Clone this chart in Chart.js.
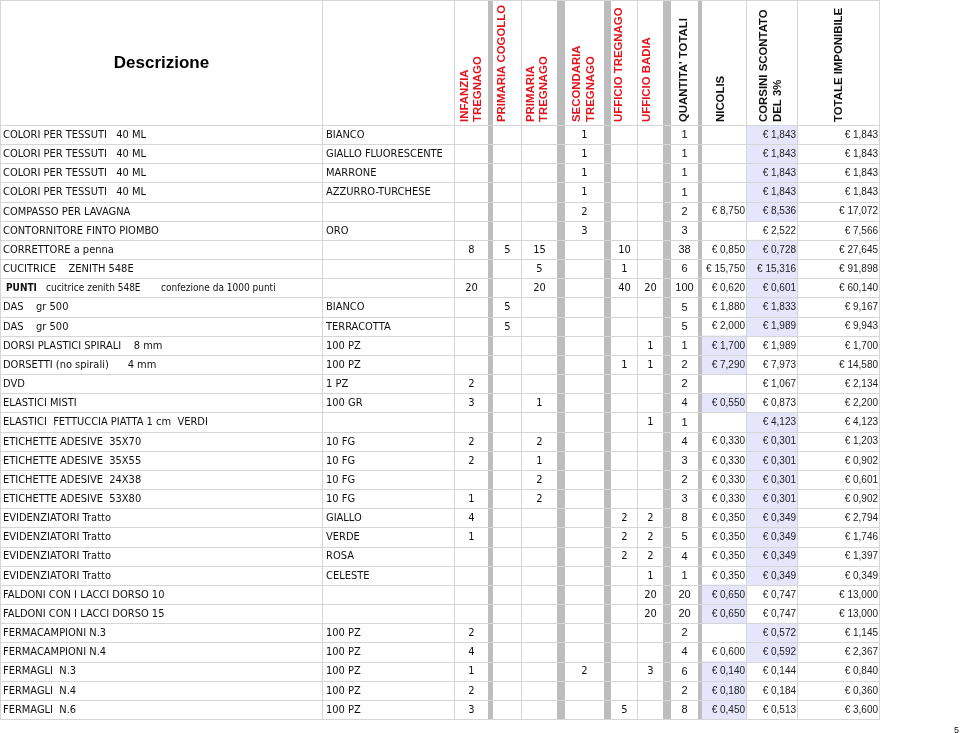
<!DOCTYPE html>
<html>
<head>
<meta charset="utf-8">
<script src="https://cdn.jsdelivr.net/npm/chart.js@4"></script>
<style>
  html, body { margin: 0; padding: 0; background: #fff; }
  #wrap { position: relative; width: 960px; height: 733px; }
</style>
</head>
<body>
<div id="wrap"><canvas id="myChart"></canvas></div>
<script>
// --- data ---
const descriptions = [
  'COLORI PER TESSUTI   40 ML',
  'COLORI PER TESSUTI   40 ML',
  'COLORI PER TESSUTI   40 ML',
  'COLORI PER TESSUTI   40 ML',
  'COMPASSO PER LAVAGNA',
  'CONTORNITORE FINTO PIOMBO',
  'CORRETTORE a penna',
  'CUCITRICE    ZENITH 548E',
  'PUNTI   cucitrice zenith 548E    confezione da 1000 punti',
  'DAS    gr 500',
  'DAS    gr 500',
  'DORSI PLASTICI SPIRALI    8 mm',
  'DORSETTI (no spirali)      4 mm',
  'DVD',
  'ELASTICI MISTI',
  'ELASTICI  FETTUCCIA PIATTA 1 cm  VERDI',
  'ETICHETTE ADESIVE  35X70',
  'ETICHETTE ADESIVE  35X55',
  'ETICHETTE ADESIVE  24X38',
  'ETICHETTE ADESIVE  53X80',
  'EVIDENZIATORI Tratto',
  'EVIDENZIATORI Tratto',
  'EVIDENZIATORI Tratto',
  'EVIDENZIATORI Tratto',
  'FALDONI CON I LACCI DORSO 10',
  'FALDONI CON I LACCI DORSO 15',
  'FERMACAMPIONI N.3',
  'FERMACAMPIONI N.4',
  'FERMAGLI  N.3',
  'FERMAGLI  N.4',
  'FERMAGLI  N.6'
];
const variants = [
  'BIANCO', 'GIALLO FLUORESCENTE', 'MARRONE', 'AZZURRO-TURCHESE', '', 'ORO', '', '', '',
  'BIANCO', 'TERRACOTTA', '100 PZ', '100 PZ', '1 PZ', '100 GR', '',
  '10 FG', '10 FG', '10 FG', '10 FG', 'GIALLO', 'VERDE', 'ROSA', 'CELESTE', '', '',
  '100 PZ', '100 PZ', '100 PZ', '100 PZ', '100 PZ'
];
const infanziaTregnago  = [null,null,null,null,null,null,8,null,20,null,null,null,null,2,3,null,2,2,null,1,4,1,null,null,null,null,2,4,1,2,3];
const primariaCogollo   = [null,null,null,null,null,null,5,null,null,5,5,null,null,null,null,null,null,null,null,null,null,null,null,null,null,null,null,null,null,null,null];
const primariaTregnago  = [null,null,null,null,null,null,15,5,20,null,null,null,null,null,1,null,2,1,2,2,null,null,null,null,null,null,null,null,null,null,null];
const secondariaTregnago= [1,1,1,1,2,3,null,null,null,null,null,null,null,null,null,null,null,null,null,null,null,null,null,null,null,null,null,null,2,null,null];
const ufficioTregnago   = [null,null,null,null,null,null,10,1,40,null,null,null,1,null,null,null,null,null,null,null,2,2,2,null,null,null,null,null,null,null,5];
const ufficioBadia      = [null,null,null,null,null,null,null,null,20,null,null,1,1,null,null,1,null,null,null,null,2,2,2,1,20,20,null,null,3,null,null];
const quantitaTotali    = [1,1,1,1,2,3,38,6,100,5,5,1,2,2,4,1,4,3,2,3,8,5,4,1,20,20,2,4,6,2,8];
const nicolis = [null,null,null,null,8.750,null,0.850,15.750,0.620,1.880,2.000,1.700,7.290,null,0.550,null,
  0.330,0.330,0.330,0.330,0.350,0.350,0.350,0.350,0.650,0.650,null,0.600,0.140,0.180,0.450];
const corsini = [1.843,1.843,1.843,1.843,8.536,2.522,0.728,15.316,0.601,1.833,1.989,1.989,7.973,1.067,0.873,4.123,
  0.301,0.301,0.301,0.301,0.349,0.349,0.349,0.349,0.747,0.747,0.572,0.592,0.144,0.184,0.513];
const totaleImponibile = [1.843,1.843,1.843,1.843,17.072,7.566,27.645,91.898,60.140,9.167,9.943,1.700,14.580,2.134,2.200,4.123,
  1.203,0.902,0.601,0.902,2.794,1.746,1.397,0.349,13.000,13.000,1.145,2.367,0.840,0.360,3.600];
// which supplier price is highlighted: N = Nicolis, C = Corsini
const highlighted = ['C','C','C','C','C',null,'C','C','C','C','C','N','N',null,'N','C',
  'C','C','C','C','C','C','C','C','N','N','C','C','N','N','N'];
const pageNumber = '5';

// --- layout (table units = px) ---
const COL = {
  desc: [0, 323], variant: [323, 455],
  inf: [455, 488], pcog: [493, 522], ptre: [522, 557], sec: [565, 604],
  utre: [611, 638], ubad: [638, 663], qtot: [671, 698],
  nic: [702, 747], cor: [747, 798], tot: [798, 880]
};
const SEPARATORS = [[488, 493], [557, 565], [604, 611], [663, 671], [698, 702]];
const EDGES = [0, 323, 455, 522, 638, 747, 798, 880];
const RED = '#e3141c';
const headers = [
  { lines: ['INFANZIA', 'TREGNAGO'], xs: [464.5, 478.3], color: RED },
  { lines: ['PRIMARIA COGOLLO'], xs: [501.8], color: RED },
  { lines: ['PRIMARIA', 'TREGNAGO'], xs: [530.5, 543.8], color: RED },
  { lines: ['SECONDARIA', 'TREGNAGO'], xs: [577.2, 591.2], color: RED },
  { lines: ['UFFICIO TREGNAGO'], xs: [618.7], color: RED },
  { lines: ['UFFICIO BADIA'], xs: [646.7], color: RED },
  { lines: ["QUANTITA' TOTALI"], xs: [683.8], color: '#111' },
  { lines: ['NICOLIS'], xs: [720.5], color: '#111' },
  { lines: ['CORSINI SCONTATO', 'DEL 3%'], xs: [763.8, 777.8], color: '#111' },
  { lines: ['TOTALE IMPONIBILE'], xs: [838.8], color: '#111' }
];
const qtyColumns = [
  [infanziaTregnago, COL.inf], [primariaCogollo, COL.pcog], [primariaTregnago, COL.ptre],
  [secondariaTregnago, COL.sec], [ufficioTregnago, COL.utre], [ufficioBadia, COL.ubad]
];
const priceColumns = [[nicolis, COL.nic], [corsini, COL.cor], [totaleImponibile, COL.tot]];

const DATA_FONT = '11px "DejaVu Sans Condensed", "DejaVu Sans", sans-serif';
const NUM_FONT = '10px "Liberation Sans", Arial, sans-serif';

function euro(v) {
  return '\u20ac ' + v.toFixed(3).replace('.', ',');
}

const tablePlugin = {
  id: 'sheetTable',
  afterDatasetsDraw(chart) {
    const ctx = chart.ctx;
    const x = chart.scales.x, y = chart.scales.y;
    const area = chart.chartArea;
    const step = y.getPixelForValue(1) - y.getPixelForValue(0);
    const rowTop = i => y.getPixelForValue(i) - step / 2;
    const bottom = rowTop(descriptions.length);
    const px = v => x.getPixelForValue(v);
    ctx.save();

    // gray separator columns
    ctx.fillStyle = '#bdbdbd';
    SEPARATORS.forEach(s => ctx.fillRect(px(s[0]), 0, px(s[1]) - px(s[0]), bottom));

    // grid lines
    ctx.strokeStyle = '#d6d6d6';
    ctx.lineWidth = 1;
    ctx.beginPath();
    for (let i = 0; i <= descriptions.length; i++) {
      const yy = Math.round(rowTop(i)) + 0.5;
      ctx.moveTo(px(0), yy); ctx.lineTo(px(880), yy);
    }
    ctx.moveTo(px(0), 0.5); ctx.lineTo(px(880), 0.5);
    EDGES.forEach(e => {
      const xx = Math.round(px(e)) + (e === 0 ? 0.5 : -0.5);
      ctx.moveTo(xx, 0); ctx.lineTo(xx, bottom);
    });
    ctx.stroke();

    // header
    ctx.fillStyle = '#000';
    ctx.font = 'bold 17px "Liberation Sans", Arial, sans-serif';
    ctx.textAlign = 'center';
    ctx.textBaseline = 'middle';
    ctx.fillText('Descrizione', px((COL.desc[0] + COL.desc[1]) / 2), 63);

    ctx.font = 'bold 11.4px "Liberation Sans", Arial, sans-serif';
    ctx.textAlign = 'left';
    headers.forEach(h => {
      ctx.fillStyle = h.color;
      h.lines.forEach((line, k) => {
        ctx.save();
        ctx.translate(px(h.xs[k]), area.top - 3);
        ctx.rotate(-Math.PI / 2);
        ctx.fillText(line, 0, 0);
        ctx.restore();
      });
    });

    // rows
    ctx.fillStyle = '#111';
    descriptions.forEach((d, i) => {
      const yc = y.getPixelForValue(i) + 0.5;
      ctx.textAlign = 'left';
      if (d.startsWith('PUNTI')) {
        const parts = d.split(/ {3,}/);
        ctx.font = 'bold 10px "DejaVu Sans Condensed", "DejaVu Sans", sans-serif';
        ctx.fillText(parts[0], px(6), yc);
        ctx.font = '10px "DejaVu Sans Condensed", "DejaVu Sans", sans-serif';
        ctx.fillText(parts[1], px(46), yc);
        ctx.fillText(parts[2], px(161), yc);
      } else {
        ctx.font = DATA_FONT;
        ctx.fillText(d, px(3), yc);
      }
      ctx.font = DATA_FONT;
      if (variants[i]) ctx.fillText(variants[i], px(COL.variant[0] + 3), yc);

      ctx.textAlign = 'center';
      qtyColumns.forEach(([arr, c]) => {
        if (arr[i] != null) ctx.fillText(String(arr[i]), px((c[0] + c[1]) / 2), yc);
      });
      ctx.font = '11px "Liberation Sans", Arial, sans-serif';
      ctx.fillText(String(quantitaTotali[i]), px((COL.qtot[0] + COL.qtot[1]) / 2), yc);

      ctx.font = NUM_FONT;
      ctx.textAlign = 'right';
      ctx.fillStyle = '#222';
      priceColumns.forEach(([arr, c]) => {
        if (arr[i] != null) ctx.fillText(euro(arr[i]), px(c[1] - 2), yc);
      });
      ctx.fillStyle = '#111';
    });

    // page number
    ctx.font = '9px "Liberation Sans", Arial, sans-serif';
    ctx.textAlign = 'left';
    ctx.fillText(pageNumber, 954, 731);
    ctx.restore();
  }
};

document.addEventListener('DOMContentLoaded', function () {
  const ctx = document.getElementById('myChart');
  const shade = key => highlighted.map(h => h === key ? (key === 'N' ? COL.nic : COL.cor).slice() : null);

  new Chart(ctx, {
    type: 'bar',
    data: {
      labels: descriptions,
      datasets: [
        { label: 'NICOLIS', data: shade('N'), backgroundColor: '#e5e5fb', borderWidth: 0,
          barPercentage: 1, categoryPercentage: 1, grouped: false },
        { label: 'CORSINI SCONTATO DEL 3%', data: shade('C'), backgroundColor: '#e5e5fb', borderWidth: 0,
          barPercentage: 1, categoryPercentage: 1, grouped: false }
      ]
    },
    options: {
      indexAxis: 'y',
      responsive: true,
      maintainAspectRatio: false,
      animation: false,
      events: [],
      layout: { padding: { left: 0, top: 125, right: 80, bottom: 14 } },
      plugins: { legend: { display: false }, tooltip: { enabled: false } },
      scales: {
        x: { type: 'linear', min: 0, max: 880, display: false },
        y: { type: 'category', offset: true, display: false }
      }
    },
    plugins: [tablePlugin]
  });
});
</script>
</body>
</html>
